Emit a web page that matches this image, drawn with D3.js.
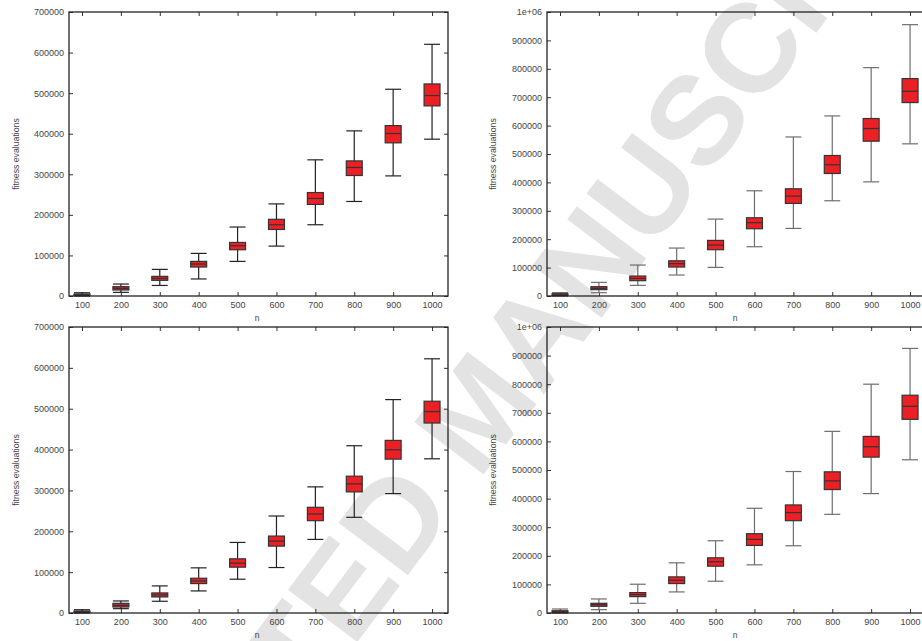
<!DOCTYPE html>
<html>
<head>
<meta charset="utf-8">
<script src="https://cdn.jsdelivr.net/npm/d3@7/dist/d3.min.js"></script>
<style>
  html, body { margin: 0; padding: 0; background: #fff; }
  svg { display: block; }
  text { font-family: "Liberation Sans", Arial, sans-serif; }
</style>
</head>
<body>
<svg id="chart" width="922" height="641"></svg>
<script>
// ---------------- DATA ----------------
const nValues = [100, 200, 300, 400, 500, 600, 700, 800, 900, 1000];
const xTickLabels = ["100", "200", "300", "400", "500", "600", "700", "800", "900", "1000"];
const yTicksSmall = [0, 100000, 200000, 300000, 400000, 500000, 600000, 700000];
const yTicksLarge = [0, 100000, 200000, 300000, 400000, 500000, 600000, 700000, 800000, 900000, 1000000];
const xLabel = "n";
const yLabel = "fitness evaluations";
const watermarkText = "ACCEPTED MANUSCRIPT";

// Panel 1 (top-left)
const p1Min = [0, 9000, 26000, 42000, 85300, 123000, 175600, 233000, 296000, 386500];
const p1Q1  = [1500, 14800, 38600, 71400, 114000, 164000, 225700, 297000, 377500, 468600];
const p1Med = [3000, 19000, 43500, 78800, 124000, 175600, 240400, 316800, 400500, 494000];
const p1Q3  = [5000, 23000, 48400, 85300, 132000, 189000, 255000, 333000, 420000, 522700];
const p1Max = [8000, 29500, 65600, 105000, 170000, 227000, 335600, 407000, 509600, 620400];

// Panel 2 (top-right)
const p2Min = [0, 11700, 37500, 73900, 100800, 173500, 238000, 335300, 402000, 535800];
const p2Q1  = [1500, 22300, 54000, 102000, 163000, 236800, 326000, 431400, 545100, 681100];
const p2Med = [4000, 27000, 62000, 113700, 179400, 258000, 351700, 462000, 589700, 721000];
const p2Q3  = [8000, 32800, 70300, 124000, 195800, 275500, 377500, 494700, 624900, 765500];
const p2Max = [12000, 48000, 109000, 168800, 270800, 370500, 560000, 634000, 804000, 955400];

// Panel 3 (bottom-left)
const p3Min = [0, 10600, 28700, 54000, 82700, 111300, 180100, 234200, 292300, 377400];
const p3Q1  = [1500, 14700, 39300, 72000, 112200, 163700, 226000, 296400, 376600, 465000];
const p3Med = [3000, 18800, 44200, 78600, 122000, 176000, 242300, 316000, 399500, 492900];
const p3Q3  = [5000, 23700, 49100, 85100, 132600, 188300, 258700, 334900, 422500, 518300];
const p3Max = [8000, 29500, 66300, 110500, 172700, 237400, 308700, 409400, 522300, 622200];

// Panel 4 (bottom-right)
const p4Min = [0, 11700, 33900, 73700, 111100, 168400, 235100, 345000, 417500, 535700];
const p4Q1  = [1500, 23400, 57300, 102900, 163700, 236300, 322800, 431600, 545000, 677200];
const p4Med = [4000, 29200, 64300, 114600, 179000, 257300, 350900, 462000, 581300, 722800];
const p4Q3  = [8000, 33900, 71300, 126300, 193000, 277200, 377800, 493600, 617500, 761400];
const p4Max = [14000, 49100, 100600, 175400, 252600, 366100, 494700, 635100, 800000, 925100];

// ---------------- DRAWING ----------------
const svg = d3.select("#chart");

// watermark (behind the plots)
svg.append("text")
  .attr("transform", "translate(476,409) rotate(-53)")
  .attr("text-anchor", "middle")
  .attr("dy", "0.36em")
  .attr("font-size", 126)
  .attr("font-weight", "bold")
  .attr("fill", "#e3e3e3")
  .text(watermarkText);

const panels = [
  { left: 69,  top: 12,  width: 379, height: 284, ymax: 700000,  yticks: yTicksSmall,
    min: p1Min, q1: p1Q1, med: p1Med, q3: p1Q3, max: p1Max, whisker: "#222", labelX: 16 },
  { left: 547, top: 12,  width: 379, height: 284, ymax: 1000000, yticks: yTicksLarge,
    min: p2Min, q1: p2Q1, med: p2Med, q3: p2Q3, max: p2Max, whisker: "#6e6e6e", labelX: 493 },
  { left: 69,  top: 327, width: 379, height: 286, ymax: 700000,  yticks: yTicksSmall,
    min: p3Min, q1: p3Q1, med: p3Med, q3: p3Q3, max: p3Max, whisker: "#222", labelX: 16 },
  { left: 547, top: 327, width: 379, height: 286, ymax: 1000000, yticks: yTicksLarge,
    min: p4Min, q1: p4Q1, med: p4Med, q3: p4Q3, max: p4Max, whisker: "#6e6e6e", labelX: 493 }
];

const fmt = d => d === 1000000 ? "1e+06" : String(d);
const boxWidthUnits = 41;

panels.forEach(p => {
  const g = svg.append("g").attr("transform", `translate(${p.left},${p.top})`);
  const x = d3.scaleLinear().domain([66.6, 1041]).range([0, p.width]);
  const y = d3.scaleLinear().domain([0, p.ymax]).range([p.height, 0]);
  const bw = x(boxWidthUnits) - x(0);

  const styleAxis = (sel, showText) => {
    sel.select(".domain").remove();
    sel.selectAll(".tick line").attr("stroke", "#333").attr("stroke-width", 1);
    sel.selectAll(".tick text")
      .attr("fill", "#444")
      .attr("font-size", 9)
      .attr("font-family", "'Liberation Sans', Arial, sans-serif");
    if (!showText) sel.selectAll(".tick text").remove();
  };

  // axes (ticks inward)
  g.append("g").attr("transform", `translate(0,${p.height})`)
    .call(d3.axisBottom(x).tickValues(nValues).tickFormat((d, i) => xTickLabels[i]).tickSize(-4).tickPadding(6))
    .call(s => styleAxis(s, true));
  g.append("g")
    .call(d3.axisTop(x).tickValues(nValues).tickSize(-4))
    .call(s => styleAxis(s, false));
  g.append("g")
    .call(d3.axisLeft(y).tickValues(p.yticks).tickFormat(fmt).tickSize(-4).tickPadding(5))
    .call(s => styleAxis(s, true));
  g.append("g").attr("transform", `translate(${p.width},0)`)
    .call(d3.axisRight(y).tickValues(p.yticks).tickSize(-4))
    .call(s => styleAxis(s, false));

  // boxes
  const data = nValues.map((n, i) => ({ n, min: p.min[i], q1: p.q1[i], med: p.med[i], q3: p.q3[i], max: p.max[i] }));
  const b = g.selectAll(".box").data(data).join("g").attr("class", "box");

  // whiskers
  b.append("line")
    .attr("x1", d => x(d.n)).attr("x2", d => x(d.n))
    .attr("y1", d => y(d.max)).attr("y2", d => y(d.q3))
    .attr("stroke", p.whisker).attr("stroke-width", 1.2);
  b.append("line")
    .attr("x1", d => x(d.n)).attr("x2", d => x(d.n))
    .attr("y1", d => y(d.q1)).attr("y2", d => y(d.min))
    .attr("stroke", p.whisker).attr("stroke-width", 1.2);
  // caps
  b.append("line")
    .attr("x1", d => x(d.n) - bw / 2).attr("x2", d => x(d.n) + bw / 2)
    .attr("y1", d => y(d.max)).attr("y2", d => y(d.max))
    .attr("stroke", p.whisker).attr("stroke-width", 1.2);
  b.append("line")
    .attr("x1", d => x(d.n) - bw / 2).attr("x2", d => x(d.n) + bw / 2)
    .attr("y1", d => y(d.min)).attr("y2", d => y(d.min))
    .attr("stroke", p.whisker).attr("stroke-width", 1.2);
  // box
  b.append("rect")
    .attr("x", d => x(d.n) - bw / 2)
    .attr("width", bw)
    .attr("y", d => y(d.q3))
    .attr("height", d => Math.max(0.5, y(d.q1) - y(d.q3)))
    .attr("fill", "#ec2024")
    .attr("stroke", "#333")
    .attr("stroke-width", 1.2);
  // median
  b.append("line")
    .attr("x1", d => x(d.n) - bw / 2).attr("x2", d => x(d.n) + bw / 2)
    .attr("y1", d => y(d.med)).attr("y2", d => y(d.med))
    .attr("stroke", "#333").attr("stroke-width", 1.2);

  // frame
  g.append("rect")
    .attr("width", p.width).attr("height", p.height)
    .attr("fill", "none").attr("stroke", "#222").attr("stroke-width", 1.3);

  // axis labels
  svg.append("text")
    .attr("x", p.left + x(550)).attr("y", p.top + p.height + 25)
    .attr("text-anchor", "middle")
    .attr("font-size", 8.5).attr("fill", "#444")
    .text(xLabel);
  svg.append("text")
    .attr("transform", `translate(${p.labelX},${p.top + p.height / 2}) rotate(-90)`)
    .attr("text-anchor", "middle").attr("dy", "0.35em")
    .attr("font-size", 8.7).attr("fill", "#444")
    .text(yLabel);
});
</script>
</body>
</html>
